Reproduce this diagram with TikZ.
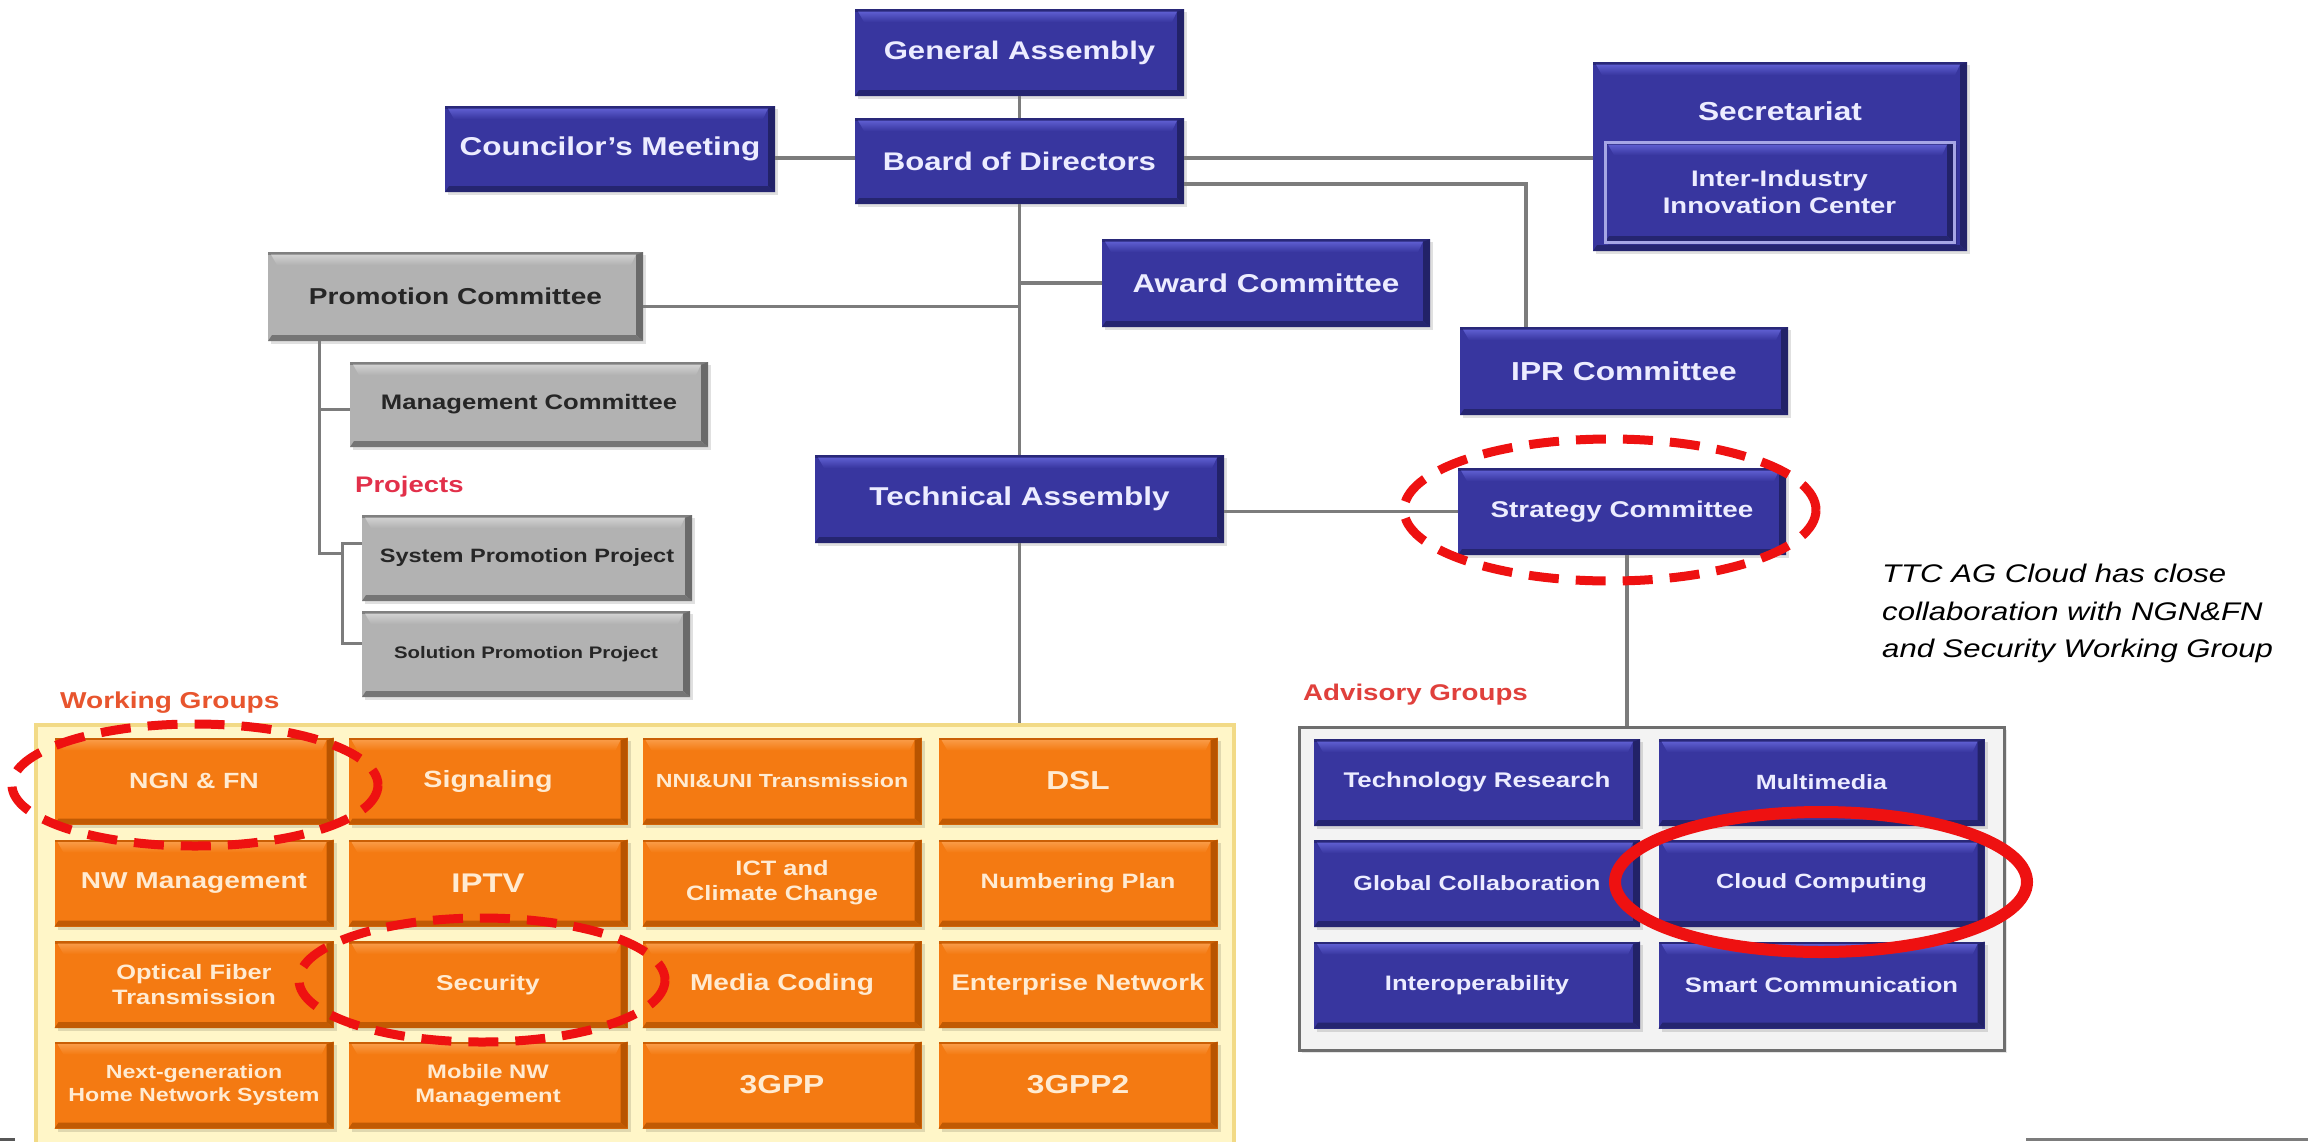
\documentclass[tikz,border=0pt]{standalone}
\usepackage{fontspec}
\setmainfont{Liberation Sans}[FakeStretch=1.22]
\usetikzlibrary{calc,shadows}

\definecolor{bluebase}{HTML}{38369F}
\definecolor{bluelight}{HTML}{5E5ED0}
\definecolor{bluedark}{HTML}{222268}
\definecolor{bluetext}{HTML}{ECECFF}
\definecolor{orbase}{HTML}{F47A12}
\definecolor{orlight}{HTML}{F99A45}
\definecolor{ordark}{HTML}{B85400}
\definecolor{ortext}{HTML}{FFEBD2}
\definecolor{graybase}{HTML}{B2B2B2}
\definecolor{graylight}{HTML}{D2D2D2}
\definecolor{graydark}{HTML}{6A6A6A}
\definecolor{linegray}{HTML}{7C7C7C}
\definecolor{wgfill}{HTML}{FFF6C8}
\definecolor{wgedge}{HTML}{F2DA86}
\definecolor{agfill}{HTML}{F3F3F3}
\definecolor{agedge}{HTML}{6E6E6E}
\definecolor{hlred}{HTML}{EE1111}
\definecolor{projred}{HTML}{E2304A}
\definecolor{wgred}{HTML}{E8552E}
\definecolor{agred}{HTML}{E0403C}

% bold face at a given size and line spacing
\newcommand\bxf[2]{\fontsize{#1}{#2}\selectfont\bfseries}

\tikzset{
  % raised box: base fill, light top bevel, dark right and bottom bevels
  bevel/.style n args={3}{
    fill=#1,
    general shadow={fill=black, opacity=.12, shadow xshift=3pt, shadow yshift=-3pt},
    path picture={
      \path (path picture bounding box.north west) coordinate (pnw)
            (path picture bounding box.north east) coordinate (pne)
            (path picture bounding box.south west) coordinate (psw)
            (path picture bounding box.south east) coordinate (pse);
      \fill[#3!70!#1] (pnw) rectangle ([yshift=-2.5pt]pne);
      \shade[top color=#2, bottom color=#1]
        ([xshift=3pt,yshift=-2.5pt]pnw) -- ([xshift=-7pt,yshift=-2.5pt]pne)
        -- ([xshift=-12pt,yshift=-13pt]pne) -- ([xshift=9pt,yshift=-13pt]pnw) -- cycle;
      \fill[#3] (pne) -- (pse) -- ([xshift=-7pt,yshift=6pt]pse)
        -- ([xshift=-7pt,yshift=-3pt]pne) -- cycle;
      \fill[#3!85!#1] (psw) -- (pse) -- ([xshift=-7pt,yshift=6pt]pse)
        -- ([xshift=4pt,yshift=6pt]psw) -- cycle;
    }
  },
  boxsize/.style 2 args={minimum width=#1pt, minimum height=#2pt},
  bluebox/.style={bevel={bluebase}{bluelight}{bluedark}, text=bluetext,
    inner sep=0pt, align=center},
  orbox/.style={bevel={orbase}{orlight}{ordark}, text=ortext,
    inner sep=0pt, align=center, boxsize={279}{87}},
  graybox/.style={bevel={graybase}{graylight}{graydark}, text=black!85,
    inner sep=0pt, align=center},
  agcell/.style={bluebox, boxsize={326}{87}},
  conn/.style={draw=linegray, line width=3.5pt},
  hl/.style={draw=hlred, line width=9pt, dash pattern=on 30pt off 17pt},
  grouplabel/.style={anchor=west, inner sep=0pt},
  note/.style={anchor=base west, inner sep=0pt, font=\fontsize{25.5}{30}\selectfont\itshape},
}

\begin{document}
\begin{tikzpicture}[x=1pt, y=-1pt]
\useasboundingbox (0,0) rectangle (2308,1141);
\fill[white] (0,0) rectangle (2308,1141);
\clip (0,0) rectangle (2308,1141);

% ---------- group containers ----------
\node[draw=wgedge, fill=wgfill, line width=4pt, minimum width=1198pt,
      minimum height=440pt, inner sep=0pt] (wg) at (635,945) {};
\node[draw=agedge, fill=agfill, line width=3pt, minimum width=705pt,
      minimum height=323pt, inner sep=0pt,
      general shadow={fill=black, opacity=.1, shadow xshift=3pt, shadow yshift=-3pt}] (ag) at (1651.5,888.5) {};

% ---------- governing bodies ----------
\node[bluebox, boxsize={329}{87}, font=\bxf{25.5}{30}] (ga) at (1019.5,52.5) {General Assembly};
\node[bluebox, boxsize={329}{86}, font=\bxf{25.5}{30}] (bod) at (1019.5,161) {Board of Directors};
\node[bluebox, boxsize={330}{86}, font=\bxf{25.8}{30}] (council) at (610,149) {Councilor's Meeting};

\node[bluebox, boxsize={374}{189}] (sec) at (1780,156.5) {};
\node[text=bluetext, font=\bxf{26}{30}, inner sep=0pt] (sectext) at (1780,111) {Secretariat};
\node[bluebox, draw=bluelight!55!white, line width=3pt, boxsize={349}{100},
      font=\bxf{22.5}{27}] (iic) at (1779.5,192) {Inter-Industry\\Innovation Center};

\node[bluebox, boxsize={328}{88}, font=\bxf{25.8}{30}] (award) at (1266,283) {Award Committee};
\node[bluebox, boxsize={328}{88}, font=\bxf{26}{30}] (ipr) at (1624,371) {IPR Committee};
\node[bluebox, boxsize={409}{88}, font=\bxf{25.8}{30}] (ta) at (1019.5,499) {Technical Assembly};
\node[bluebox, boxsize={328}{87}, font=\bxf{22.8}{27}] (strat) at (1622,511.5) {Strategy  Committee};

% ---------- promotion branch ----------
\node[graybox, boxsize={375}{89}, font=\bxf{23}{27}] (prom) at (455.5,296.5) {Promotion Committee};
\node[graybox, boxsize={358}{85}, font=\bxf{21}{25}] (mgmt) at (529,404.5) {Management Committee};
\node[graybox, boxsize={330}{86}, font=\bxf{19.3}{23}] (sysp) at (527,558) {System Promotion Project};
\node[graybox, boxsize={328}{86}, font=\bxf{16.7}{20}] (solp) at (526,654) {Solution Promotion Project};

\node[grouplabel, text=projred, font=\bxf{22.5}{27}] (projl) at (355,487) {Projects};
\node[grouplabel, text=wgred, font=\bxf{23}{27}] (wgl) at (60,703) {Working Groups};
\node[grouplabel, text=agred, font=\bxf{22.7}{27}] (agl) at (1303,695) {Advisory Groups};

% ---------- working groups ----------
\node[orbox, font=\bxf{22}{26}] (w11) at (194,781) {NGN \& FN};
\node[orbox, font=\bxf{23.5}{28}] (w12) at (488,781) {Signaling};
\node[orbox, font=\bxf{19}{23}] (w13) at (782,781) {NNI\&UNI Transmission};
\node[orbox, font=\bxf{26}{30}] (w14) at (1078,781) {DSL};

\node[orbox, font=\bxf{23}{27}] (w21) at (194,883) {NW Management};
\node[orbox, font=\bxf{27}{31}] (w22) at (488,883) {IPTV};
\node[orbox, font=\bxf{20.8}{25}] (w23) at (782,883) {ICT and\\Climate Change};
\node[orbox, font=\bxf{20.8}{25}] (w24) at (1078,883) {Numbering Plan};

\node[orbox, font=\bxf{20.8}{25}] (w31) at (194,984.5) {Optical Fiber\\Transmission};
\node[orbox, font=\bxf{21.5}{26}] (w32) at (488,984.5) {Security};
\node[orbox, font=\bxf{23}{27}] (w33) at (782,984.5) {Media Coding};
\node[orbox, font=\bxf{22.6}{27}] (w34) at (1078,984.5) {Enterprise Network};

\node[orbox, font=\bxf{19}{23.5}] (w41) at (194,1085) {Next-generation\\Home Network System};
\node[orbox, font=\bxf{19.5}{24}] (w42) at (488,1085) {Mobile NW\\Management};
\node[orbox, font=\bxf{26}{30}] (w43) at (782,1085) {3GPP};
\node[orbox, font=\bxf{26}{30}] (w44) at (1078,1085) {3GPP2};

% ---------- advisory groups ----------
\node[agcell, font=\bxf{21.2}{25}] (a11) at (1477,782.5) {Technology Research};
\node[agcell, font=\bxf{20.6}{25}] (a12) at (1821.5,782.5) {Multimedia};
\node[agcell, font=\bxf{20.6}{25}] (a21) at (1477,883.5) {Global Collaboration};
\node[agcell, font=\bxf{20.6}{25}] (a22) at (1821.5,883.5) {Cloud Computing};
\node[agcell, font=\bxf{20.9}{25}] (a31) at (1477,985) {Interoperability};
\node[agcell, font=\bxf{21}{25}] (a32) at (1821.5,985) {Smart Communication};

% ---------- connectors ----------
\draw[conn] (ga.south) -- (bod.north);
\draw[conn] (bod.south) -- (ta.north);
\draw[conn] (ta.south) -- (ta.south |- wg.north);
\draw[conn] ([yshift=-9pt]council.east) -- ([yshift=-9pt]council.east -| bod.west);
\draw[conn] ([yshift=3pt]bod.east) -- ([yshift=3pt]bod.east -| sec.west);
\coordinate (iprbend) at (1526,184);
\draw[conn] (bod.east |- iprbend) -- (iprbend) -- (iprbend |- ipr.north);
\draw[conn] (award.west) -- (award.west -| bod.south);
\draw[conn] ([yshift=-10pt]prom.east) -- ([yshift=-10pt]prom.east -| bod.south);
\draw[conn] (strat.west) -- (strat.west -| ta.east);
\draw[conn] ([xshift=5pt]strat.south) -- ([xshift=5pt]strat.south |- ag.north);

% promotion tree
\coordinate (trunk) at (319,553);
\coordinate (fork) at (342,553);
\draw[conn, line width=3pt] (trunk |- prom.south) -- (trunk) -- (fork);
\draw[conn, line width=3pt] ([yshift=-5pt]mgmt.west -| trunk) -- ([yshift=-5pt]mgmt.west);
\draw[conn, line width=3pt] ([yshift=15pt]sysp.west) -| (fork);
\draw[conn, line width=3pt] ([yshift=11pt]solp.west) -| (fork);

% slide edge rules
\draw[linegray, line width=3pt] (2026,1139.5) -- (2308,1139.5);
\draw[linegray!70!black, line width=3pt] (0,1139.5) -- (15,1139.5);

% ---------- highlights ----------
\draw[hl] (1610,510) ellipse [x radius=206, y radius=71];
\draw[hl] (195,785) ellipse [x radius=183, y radius=61];
\draw[hl] (482,980) ellipse [x radius=183, y radius=62];
\draw[draw=hlred, line width=12pt] (1821,882) ellipse [x radius=206, y radius=70];

% ---------- note ----------
\node[note] (ttc1) at (1882,582) {TTC AG Cloud has close};
\node[note] (ttc2) at (1882,620) {collaboration with NGN\&FN};
\node[note] (ttc3) at (1882,657) {and Security Working Group};
\end{tikzpicture}
\end{document}
